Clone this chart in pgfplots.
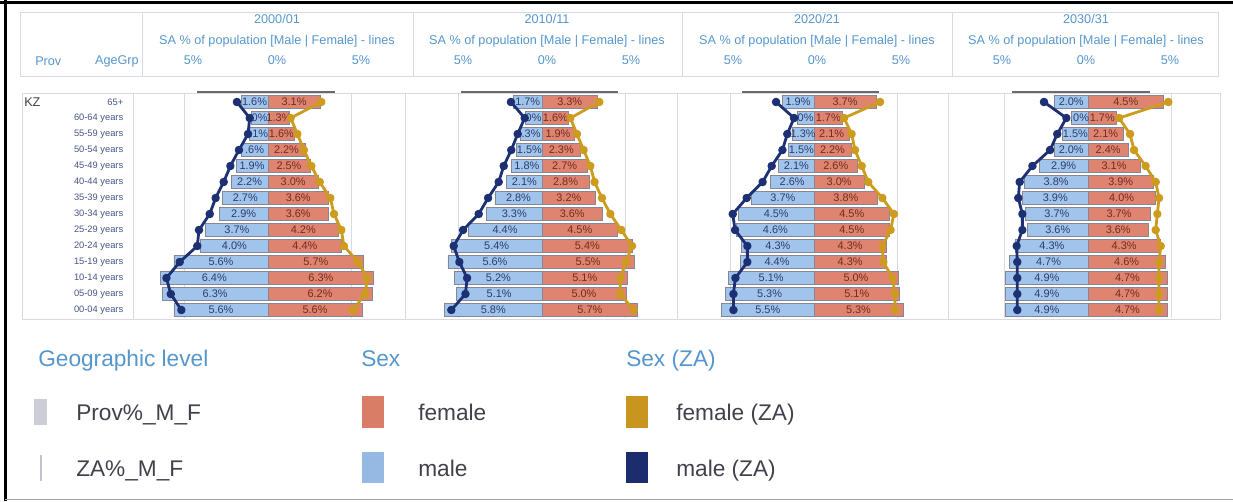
\documentclass[border=0pt]{standalone}
\usepackage{pgfplots}
\pgfplotsset{compat=1.18}
\usepackage{pgfplotstable}
\usepackage{fontspec}
\setmainfont{Liberation Sans}

\definecolor{malebar}{RGB}{160,196,235}
\definecolor{femalebar}{RGB}{222,132,112}
\definecolor{barline}{RGB}{135,135,148}
\definecolor{maleza}{RGB}{28,48,115}
\definecolor{femaleza}{RGB}{205,155,30}
\definecolor{hdr}{RGB}{85,150,205}
\definecolor{sepc}{RGB}{215,218,225}
\definecolor{rowlab}{RGB}{70,85,135}
\definecolor{mlab}{RGB}{45,60,105}
\definecolor{flab}{RGB}{110,45,35}
\definecolor{darkbar}{RGB}{105,105,110}
\definecolor{legtxt}{RGB}{65,65,75}

\pgfplotstableread{
y m f mz fz ml fl
0 1.6 3.1 1.85 3.17 1.6 3.1
1 1.0 1.3 1.09 1.35 0 1.3
2 1.1 1.6 1.19 1.75 .1 1.6
3 1.6 2.2 1.73 2.14 .6 2.2
4 1.9 2.5 2.24 2.58 1.9 2.5
5 2.2 3.0 2.64 3.08 2.2 3.0
6 2.7 3.6 3.12 3.71 2.7 3.6
7 2.9 3.6 3.47 3.93 2.9 3.6
8 3.7 4.2 4.11 4.37 3.7 4.2
9 4.0 4.4 4.21 4.52 4.0 4.4
10 5.6 5.7 5.26 5.36 5.6 5.7
11 6.4 6.3 6.05 5.91 6.4 6.3
12 6.3 6.2 5.79 5.79 6.3 6.2
13 5.6 5.6 5.16 5.06 5.6 5.6
}\tA
\pgfplotstableread{
y m f mz fz ml fl
0 1.7 3.3 1.85 3.41 1.7 3.3
1 1.0 1.6 1.03 1.69 0 1.6
2 1.3 1.9 1.45 2.08 .3 1.9
3 1.5 2.3 1.83 2.48 1.5 2.3
4 1.8 2.7 2.28 2.88 1.8 2.7
5 2.1 2.8 2.58 3.13 2.1 2.8
6 2.8 3.2 3.21 3.57 2.8 3.2
7 3.3 3.6 3.77 4.07 3.3 3.6
8 4.4 4.5 4.70 4.72 4.4 4.5
9 5.4 5.4 5.26 5.36 5.4 5.4
10 5.6 5.5 4.92 5.00 5.6 5.5
11 5.2 5.1 4.46 4.66 5.2 5.1
12 5.1 5.0 4.56 4.66 5.1 5.0
13 5.8 5.7 5.40 5.46 5.8 5.7
}\tB
\pgfplotstableread{
y m f mz fz ml fl
0 1.9 3.7 2.26 3.93 1.9 3.7
1 1.0 1.7 1.19 1.79 0 1.7
2 1.3 2.1 1.59 2.24 1.3 2.1
3 1.5 2.2 1.88 2.44 1.5 2.2
4 2.1 2.6 2.52 2.84 2.1 2.6
5 2.6 3.0 3.06 3.23 2.6 3.0
6 3.7 3.8 4.01 4.07 3.7 3.8
7 4.5 4.5 4.84 4.76 4.5 4.5
8 4.6 4.5 4.70 4.56 4.6 4.5
9 4.3 4.3 3.97 4.07 4.3 4.3
10 4.4 4.3 3.97 4.13 4.4 4.3
11 5.1 5.0 4.68 4.68 5.1 5.0
12 5.3 5.1 4.80 4.82 5.3 5.1
13 5.5 5.3 4.80 4.82 5.5 5.3
}\tC
\pgfplotstableread{
y m f mz fz ml fl
0 2.0 4.5 2.62 4.78 2.0 4.5
1 1.0 1.7 1.29 1.85 .0 1.7
2 1.5 2.1 1.83 2.50 1.5 2.1
3 2.0 2.4 2.26 2.74 2.0 2.4
4 2.9 3.1 3.31 3.43 2.9 3.1
5 3.8 3.9 4.07 4.03 3.8 3.9
6 3.9 4.0 4.15 4.23 3.9 4.0
7 3.7 3.7 3.91 4.13 3.7 3.7
8 3.6 3.6 3.91 4.03 3.6 3.6
9 4.3 4.3 4.25 4.33 4.3 4.3
10 4.7 4.6 4.21 4.23 4.7 4.6
11 4.9 4.7 4.21 4.23 4.9 4.7
12 4.9 4.7 4.21 4.23 4.9 4.7
13 4.9 4.7 4.21 4.23 4.9 4.7
}\tD

\newcommand{\barfont}{\fontsize{8.2}{9}\selectfont}
\newcommand{\panelplots}[3]{%
 \addplot[xbar, bar width=0.8, bar shift=0pt, fill=malebar, draw=barline, line width=0.6pt] table[x expr=-\thisrow{m}, y=y]{#1};
 \addplot[xbar, bar width=0.8, bar shift=0pt, fill=femalebar, draw=barline, line width=0.6pt] table[x=f, y=y]{#1};
 \addplot[draw=none, mark=none, nodes near coords={\pgfplotspointmeta\%}, point meta=explicit symbolic,
   every node near coord/.append style={font=\barfont, text=mlab, anchor=center, inner sep=0pt}]
   table[x expr=-\thisrow{m}/2, y=y, meta=ml]{#1};
 \addplot[draw=none, mark=none, nodes near coords={\pgfplotspointmeta\%}, point meta=explicit symbolic,
   every node near coord/.append style={font=\barfont, text=flab, anchor=center, inner sep=0pt}]
   table[x expr=\thisrow{f}/2, y=y, meta=fl]{#1};
 \addplot[maleza, line width=2.1pt, line join=round, mark=*, mark size=2.1pt, mark options={fill=maleza, draw=maleza}] table[x expr=-\thisrow{mz}, y=y]{#1};
 \addplot[femaleza, line width=2.1pt, line join=round, mark=*, mark size=2.1pt, mark options={fill=femaleza, draw=femaleza}] table[x=fz, y=y]{#1};
 \addplot[darkbar, line width=1.5pt] coordinates {(#2,-0.63) (#3,-0.63)};
}

\pgfplotsset{pan/.style={
  scale only axis, width=204pt, height=168pt, anchor=north west,
  xmin=-8.1, xmax=8.1, ymin=-0.5, ymax=13.5, y dir=reverse,
  xtick={-5,5}, xticklabels={}, xmajorgrids, grid style={sepc, line width=0.75pt},
  ytick=\empty, axis line style={draw=none}, major tick length=0pt,
  clip=false,
}}

\begin{document}
\begin{tikzpicture}[x=0.75pt, y=-0.75pt]
\useasboundingbox (0,0) rectangle (1233,501);

% frame
\draw[black, line width=2.4pt] (0,2.5) -- (1233,2.5);
\draw[black, line width=2.4pt] (5.5,0) -- (5.5,501);
\draw[gray!70, line width=0.75pt] (5,499) -- (1233,499);

% header box
\draw[sepc, line width=0.75pt] (20,12) rectangle (1218,76);
\foreach \sx in {142,413,682,952} \draw[sepc, line width=0.75pt] (\sx,12) -- (\sx,76);
% row box
\draw[sepc, line width=0.75pt] (22,93) rectangle (1220,319);
\foreach \sx in {133,405,677,948} \draw[sepc, line width=0.75pt] (\sx,93) -- (\sx,319);

\tikzset{hd/.style={text=hdr, font=\fontsize{9.5}{11}\selectfont, inner sep=0pt}}
\node[hd, anchor=west] at (35,61) {Prov};
\node[hd, anchor=east] at (139,61) {AgeGrp};
\foreach \cx/\yr in {277/2000\slash 01, 547/2010\slash 11, 817/2020\slash 21, 1086/2030\slash 31}{
  \node[hd] at (\cx,19) {\yr};
  \node[hd] at (\cx,41) {SA \% of population [Male | Female] - lines};
  \node[hd] at (\cx-84,60) {5\%};
  \node[hd] at (\cx,60) {0\%};
  \node[hd] at (\cx+84,60) {5\%};
}
\node[anchor=west, inner sep=0pt, text=legtxt, font=\fontsize{9.5}{11}\selectfont] at (24,102) {KZ};

\begin{axis}[pan, at={(99pt,-70.5pt)},
  ytick={0,...,13},
  yticklabels={65+,60-64 years,55-59 years,50-54 years,45-49 years,40-44 years,35-39 years,30-34 years,25-29 years,20-24 years,15-19 years,10-14 years,05-09 years,00-04 years},
  yticklabel style={font=\fontsize{7}{8}\selectfont, text=rowlab, xshift=-3pt}]
\panelplots{\tA}{-4.2}{4.0}
\end{axis}
\begin{axis}[pan, at={(304.5pt,-70.5pt)}]
\panelplots{\tB}{-4.8}{4.5}
\end{axis}
\begin{axis}[pan, at={(508.5pt,-70.5pt)}]
\panelplots{\tC}{-4.3}{3.9}
\end{axis}
\begin{axis}[pan, at={(714pt,-70.5pt)}]
\panelplots{\tD}{-4.5}{3.7}
\end{axis}

% legend
\tikzset{lt/.style={text=hdr, font=\fontsize{17}{20}\selectfont, inner sep=0pt, anchor=base west},
         li/.style={text=legtxt, font=\fontsize{17}{20}\selectfont, inner sep=0pt, anchor=base west}}
\node[lt] at (38,366) {Geographic level};
\node[lt] at (361,366) {Sex};
\node[lt] at (626,366) {Sex (ZA)};
\fill[color={rgb,255:red,205;green,205;blue,215}] (34,399) rectangle (47,425);
\draw[color={rgb,255:red,195;green,195;blue,205}, line width=2pt] (41,455) -- (41,481);
\node[li] at (76,420) {Prov\%\_M\_F};
\node[li] at (76,476) {ZA\%\_M\_F};
\fill[color={rgb,255:red,218;green,125;blue,102}] (362,396) rectangle (384,428);
\fill[color={rgb,255:red,150;green,185;blue,228}] (362,452) rectangle (384,483);
\node[li] at (418,420) {female};
\node[li] at (418,476) {male};
\fill[color={rgb,255:red,200;green,150;blue,30}] (626,396) rectangle (648,428);
\fill[color={rgb,255:red,28;green,45;blue,110}] (626,452) rectangle (648,483);
\node[li] at (676,420) {female (ZA)};
\node[li] at (676,476) {male (ZA)};
\end{tikzpicture}
\end{document}
